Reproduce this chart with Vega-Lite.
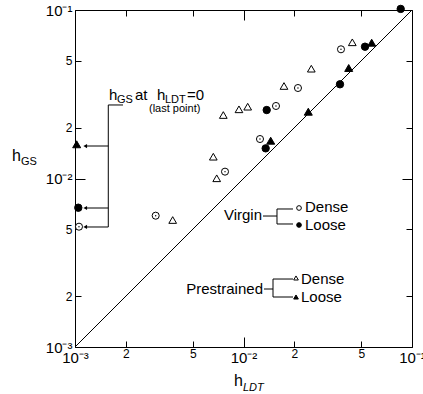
{
  "$schema": "https://vega.github.io/schema/vega-lite/v6.json",
  "width": 337,
  "height": 337,
  "autosize": {"type": "none"},
  "padding": {"left": 75, "top": 10, "right": 11, "bottom": 47},
  "background": "white",
  "config": {
    "view": {"stroke": "black", "strokeWidth": 1},
    "axis": {"grid": false, "domain": false, "tickColor": "black", "tickWidth": 1, "labelColor": "black", "labelFont": "Liberation Sans", "labelFlush": false, "labelOverlap": false, "labelBound": false, "title": null},
    "text": {"font": "Liberation Sans", "color": "black"}
  },
  "datasets": {
    "diag": [{"x": 0.001, "y": 0.001}, {"x": 0.1, "y": 0.1}],
    "pts": [
      {"s": "VD", "x": 0.03789, "y": 0.05845},
      {"s": "VD", "x": 0.02105, "y": 0.03444},
      {"s": "VD", "x": 0.01559, "y": 0.02694},
      {"s": "VD", "x": 0.012527, "y": 0.01715},
      {"s": "VD", "x": 0.007767, "y": 0.01098},
      {"s": "VD", "x": 0.003012, "y": 0.006015},
      {"s": "VD", "x": 0.001056, "y": 0.005176},
      {"s": "VL", "x": 0.08568, "y": 0.1015},
      {"s": "VL", "x": 0.05262, "y": 0.06057},
      {"s": "VL", "x": 0.03738, "y": 0.03623},
      {"s": "VL", "x": 0.01373, "y": 0.02549},
      {"s": "VL", "x": 0.01354, "y": 0.0151},
      {"s": "VL", "x": 0.001046, "y": 0.00671},
      {"s": "PD", "x": 0.04423, "y": 0.06431},
      {"s": "PD", "x": 0.02526, "y": 0.04484},
      {"s": "PD", "x": 0.01739, "y": 0.0354},
      {"s": "PD", "x": 0.01059, "y": 0.02668},
      {"s": "PD", "x": 0.0094, "y": 0.02574},
      {"s": "PD", "x": 0.007588, "y": 0.02381},
      {"s": "PD", "x": 0.006619, "y": 0.01347},
      {"s": "PD", "x": 0.006934, "y": 0.01003},
      {"s": "PD", "x": 0.0038, "y": 0.00567},
      {"s": "PL", "x": 0.05765, "y": 0.06396},
      {"s": "PL", "x": 0.04211, "y": 0.04527},
      {"s": "PL", "x": 0.02424, "y": 0.02491},
      {"s": "PL", "x": 0.0145, "y": 0.01676},
      {"s": "PL", "x": 0.001023, "y": 0.01596}
    ],
    "legpts": [
      {"s": "VD", "x": 0.021355, "y": 0.006682},
      {"s": "VL", "x": 0.021355, "y": 0.005297},
      {"s": "PD", "x": 0.020492, "y": 0.002568},
      {"s": "PL", "x": 0.020492, "y": 0.00198}
    ],
    "segs": [
      {"x": 0.001576, "x2": 0.001576, "y": 0.02731, "y2": 0.005155},
      {"x": 0.001576, "x2": 0.001927, "y": 0.02731, "y2": 0.02731},
      {"x": 0.001162, "x2": 0.001576, "y": 0.01559, "y2": 0.01559},
      {"x": 0.001162, "x2": 0.001576, "y": 0.006682, "y2": 0.006682},
      {"x": 0.001162, "x2": 0.001576, "y": 0.005155, "y2": 0.005155},
      {"x": 0.013051, "x2": 0.015803, "y": 0.005989, "y2": 0.005989},
      {"x": 0.015803, "x2": 0.015803, "y": 0.006592, "y2": 0.00537},
      {"x": 0.015803, "x2": 0.019672, "y": 0.006592, "y2": 0.006592},
      {"x": 0.015803, "x2": 0.019672, "y": 0.00537, "y2": 0.00537},
      {"x": 0.013232, "x2": 0.014966, "y": 0.002209, "y2": 0.002209},
      {"x": 0.014966, "x2": 0.014966, "y": 0.002532, "y2": 0.00198},
      {"x": 0.014966, "x2": 0.019672, "y": 0.002532, "y2": 0.002532},
      {"x": 0.014966, "x2": 0.019672, "y": 0.00198, "y2": 0.00198}
    ],
    "heads": [
      {"x": 0.00115, "y": 0.01559},
      {"x": 0.00115, "y": 0.006682},
      {"x": 0.00115, "y": 0.005155}
    ],
    "txtL": [
      {"t": "h", "x": 0.001591, "y": 0.03129},
      {"t": "at", "x": 0.00227, "y": 0.03129},
      {"t": "h", "x": 0.003066, "y": 0.03129},
      {"t": "=0", "x": 0.00462, "y": 0.03129},
      {"t": "Dense", "x": 0.023174, "y": 0.006774},
      {"t": "Loose", "x": 0.023174, "y": 0.005297},
      {"t": "Dense", "x": 0.021938, "y": 0.002532},
      {"t": "Loose", "x": 0.021938, "y": 0.00198}
    ],
    "txtR": [
      {"t": "Virgin", "x": 0.012875, "y": 0.006073},
      {"t": "Prestrained", "x": 0.013051, "y": 0.002209}
    ],
    "sub": [
      {"t": "GS", "x": 0.001776, "y": 0.02924},
      {"t": "LDT", "x": 0.00342, "y": 0.02924},
      {"t": "GS", "x": 0.0004781, "y": 0.012527},
      {"t": "(last point)", "x": 0.002749, "y": 0.02585}
    ],
    "subI": [
      {"t": "LDT", "x": 0.009931, "y": 0.000571}
    ],
    "ttl": [
      {"t": "h", "x": 0.0004228, "y": 0.0136},
      {"t": "h", "x": 0.008783, "y": 0.0006284}
    ]
  },
  "resolve": {"axis": {"x": "independent", "y": "independent"}},
  "layer": [
    {
      "data": {"name": "diag"},
      "mark": {"type": "line", "color": "black", "strokeWidth": 1},
      "encoding": {
        "x": {"field": "x", "type": "quantitative", "scale": {"type": "log", "domain": [0.001, 0.1], "nice": false},
          "axis": {"orient": "top", "values": [0.001, 0.002, 0.005, 0.01, 0.02, 0.05, 0.1], "labels": false,
            "tickSize": {"condition": {"test": "indexof([0.001,0.01,0.1], datum.value) >= 0", "value": -10}, "value": -6}}},
        "y": {"field": "y", "type": "quantitative", "scale": {"type": "log", "domain": [0.001, 0.1], "nice": false},
          "axis": {"orient": "right", "values": [0.001, 0.002, 0.005, 0.01, 0.02, 0.05, 0.1], "labels": false,
            "tickSize": {"condition": {"test": "indexof([0.001,0.01,0.1], datum.value) >= 0", "value": -10}, "value": -6}}}
      }
    },
    {
      "data": {"name": "segs"},
      "mark": {"type": "rule", "color": "black", "strokeWidth": 1},
      "encoding": {
        "x": {"field": "x", "type": "quantitative", "scale": {"type": "log", "domain": [0.001, 0.1], "nice": false}, "axis": null},
        "x2": {"field": "x2"},
        "y": {"field": "y", "type": "quantitative", "scale": {"type": "log", "domain": [0.001, 0.1], "nice": false}, "axis": null},
        "y2": {"field": "y2"}
      }
    },
    {
      "data": {"name": "heads"},
      "mark": {"type": "point", "shape": "triangle-left", "filled": true, "color": "black", "size": 18, "opacity": 1},
      "encoding": {
        "x": {"field": "x", "type": "quantitative", "scale": {"type": "log", "domain": [0.001, 0.1], "nice": false}, "axis": null},
        "y": {"field": "y", "type": "quantitative", "scale": {"type": "log", "domain": [0.001, 0.1], "nice": false}, "axis": null}
      }
    },
    {
      "data": {"name": "pts"},
      "mark": {"type": "point", "filled": true, "stroke": "black", "strokeWidth": 1, "opacity": 1, "fillOpacity": 1},
      "encoding": {
        "x": {"field": "x", "type": "quantitative", "scale": {"type": "log", "domain": [0.001, 0.1], "nice": false},
          "axis": {"orient": "bottom", "values": [0.001, 0.002, 0.005, 0.01, 0.02, 0.05, 0.1],
            "labelExpr": "datum.value==0.001?'10⁻³':datum.value==0.01?'10⁻²':datum.value==0.1?'10⁻¹':(datum.value==0.002||datum.value==0.02)?'2':'5'",
            "tickSize": {"condition": {"test": "indexof([0.001,0.01,0.1], datum.value) >= 0", "value": -10}, "value": -6},
            "labelPadding": {"condition": {"test": "indexof([0.001,0.01,0.1], datum.value) >= 0", "value": 13}, "value": 7},
            "labelFontSize": {"condition": {"test": "indexof([0.001,0.01,0.1], datum.value) >= 0", "value": 15}, "value": 12}}},
        "y": {"field": "y", "type": "quantitative", "scale": {"type": "log", "domain": [0.001, 0.1], "nice": false},
          "axis": {"orient": "left", "values": [0.001, 0.002, 0.005, 0.01, 0.02, 0.05, 0.1],
            "labelExpr": "datum.value==0.001?'10⁻³':datum.value==0.01?'10⁻²':datum.value==0.1?'10⁻¹':(datum.value==0.002||datum.value==0.02)?'2':'5'",
            "tickSize": {"condition": {"test": "indexof([0.001,0.01,0.1], datum.value) >= 0", "value": -10}, "value": -6},
            "labelPadding": {"condition": {"test": "indexof([0.001,0.01,0.1], datum.value) >= 0", "value": 13}, "value": 9},
            "labelFontSize": {"condition": {"test": "indexof([0.001,0.01,0.1], datum.value) >= 0", "value": 15}, "value": 12}}},
        "shape": {"field": "s", "type": "nominal", "scale": {"domain": ["VD", "VL", "PD", "PL"], "range": ["circle", "circle", "triangle-up", "triangle-up"]}, "legend": null},
        "fill": {"field": "s", "type": "nominal", "scale": {"domain": ["VD", "VL", "PD", "PL"], "range": ["white", "black", "white", "black"]}, "legend": null},
        "size": {"field": "s", "type": "nominal", "scale": {"domain": ["VD", "VL", "PD", "PL"], "range": [50, 64, 42, 45]}, "legend": null}
      }
    },
    {
      "data": {"name": "pts"},
      "transform": [{"filter": "datum.s == 'VD'"}],
      "mark": {"type": "circle", "color": "black", "size": 2, "opacity": 1},
      "encoding": {
        "x": {"field": "x", "type": "quantitative", "scale": {"type": "log", "domain": [0.001, 0.1], "nice": false}, "axis": null},
        "y": {"field": "y", "type": "quantitative", "scale": {"type": "log", "domain": [0.001, 0.1], "nice": false}, "axis": null}
      }
    },
    {
      "data": {"name": "legpts"},
      "mark": {"type": "point", "filled": true, "stroke": "black", "strokeWidth": 1, "opacity": 1, "fillOpacity": 1, "size": 22},
      "encoding": {
        "x": {"field": "x", "type": "quantitative", "scale": {"type": "log", "domain": [0.001, 0.1], "nice": false}, "axis": null},
        "y": {"field": "y", "type": "quantitative", "scale": {"type": "log", "domain": [0.001, 0.1], "nice": false}, "axis": null},
        "shape": {"field": "s", "type": "nominal", "legend": null},
        "fill": {"field": "s", "type": "nominal", "legend": null}
      }
    },
    {
      "data": {"name": "txtL"},
      "mark": {"type": "text", "align": "left", "baseline": "middle", "fontSize": 15},
      "encoding": {
        "x": {"field": "x", "type": "quantitative", "scale": {"type": "log", "domain": [0.001, 0.1], "nice": false}, "axis": null},
        "y": {"field": "y", "type": "quantitative", "scale": {"type": "log", "domain": [0.001, 0.1], "nice": false}, "axis": null},
        "text": {"field": "t"}
      }
    },
    {
      "data": {"name": "txtR"},
      "mark": {"type": "text", "align": "right", "baseline": "middle", "fontSize": 15},
      "encoding": {
        "x": {"field": "x", "type": "quantitative", "scale": {"type": "log", "domain": [0.001, 0.1], "nice": false}, "axis": null},
        "y": {"field": "y", "type": "quantitative", "scale": {"type": "log", "domain": [0.001, 0.1], "nice": false}, "axis": null},
        "text": {"field": "t"}
      }
    },
    {
      "data": {"name": "sub"},
      "mark": {"type": "text", "align": "left", "baseline": "middle", "fontSize": 11},
      "encoding": {
        "x": {"field": "x", "type": "quantitative", "scale": {"type": "log", "domain": [0.001, 0.1], "nice": false}, "axis": null},
        "y": {"field": "y", "type": "quantitative", "scale": {"type": "log", "domain": [0.001, 0.1], "nice": false}, "axis": null},
        "text": {"field": "t"}
      }
    },
    {
      "data": {"name": "subI"},
      "mark": {"type": "text", "align": "left", "baseline": "middle", "fontSize": 11, "fontStyle": "italic"},
      "encoding": {
        "x": {"field": "x", "type": "quantitative", "scale": {"type": "log", "domain": [0.001, 0.1], "nice": false}, "axis": null},
        "y": {"field": "y", "type": "quantitative", "scale": {"type": "log", "domain": [0.001, 0.1], "nice": false}, "axis": null},
        "text": {"field": "t"}
      }
    },
    {
      "data": {"name": "ttl"},
      "mark": {"type": "text", "align": "left", "baseline": "middle", "fontSize": 16},
      "encoding": {
        "x": {"field": "x", "type": "quantitative", "scale": {"type": "log", "domain": [0.001, 0.1], "nice": false}, "axis": null},
        "y": {"field": "y", "type": "quantitative", "scale": {"type": "log", "domain": [0.001, 0.1], "nice": false}, "axis": null},
        "text": {"field": "t"}
      }
    }
  ]
}
